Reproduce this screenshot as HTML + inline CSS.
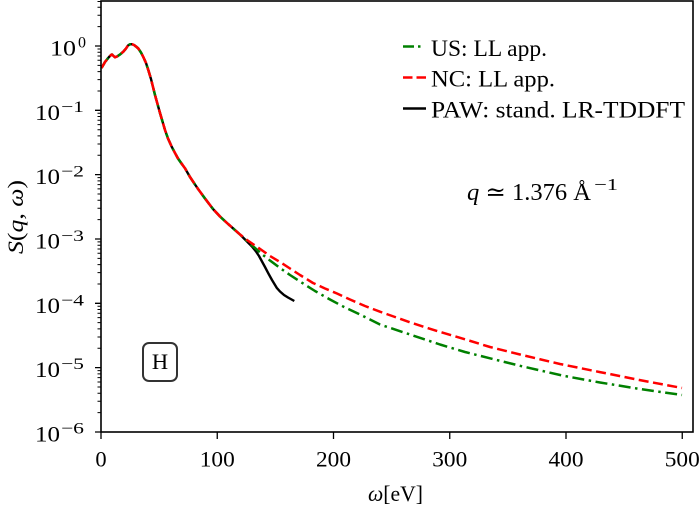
<!DOCTYPE html>
<html>
<head>
<meta charset="utf-8">
<style>
html,body{margin:0;padding:0;background:#fff;}
svg{display:block;}
text{font-family:"Liberation Serif","DejaVu Serif",serif;fill:#000;}
</style>
</head>
<body>
<svg width="700" height="506" viewBox="0 0 700 506" xmlns="http://www.w3.org/2000/svg">
<rect x="0" y="0" width="700" height="506" fill="#fff"/>

<!-- curves -->
<g fill="none" stroke-linejoin="round">
  <!-- black PAW -->
  <polyline stroke="#000" stroke-width="2.4" stroke-linecap="butt" points="101.5,68 103,65.5 105,62 107,59.5 109,57 111,55 112,54.5 113,55.5 115,57.3 117,56.5 120,54.5 123.3,51.7 126,48.5 128,45.5 130,44.3 132,44.2 134,45 136,46.5 138.3,48.5 141,52.5 143.3,57 146,63 148.3,70 151,79 153,87 155,95 157.5,104 160,113 162.5,121.5 165,130 168,138.5 171.7,146.7 175,153 178,158.5 181.5,163.5 185,168.3 190,177 195,184.5 198.3,189.3 205,198.5 213,209 220,216.5 227,223 233,228.3 240,234.5 247,241.5 252,246.5 256,251.5 259,256 262,261.5 265,267 268.3,273.3 272,280 276.7,287.8 280,291.5 284,295 288,297.5 294.3,301"/>
  <!-- green US -->
  <polyline stroke="#008000" stroke-width="2.5" stroke-dasharray="12 4.5 2.5 4.5" points="101.5,68 103,65.5 105,62 107,59.5 109,57 111,55 112,54.5 113,55.5 115,57.3 117,56.5 120,54.5 123.3,51.7 126,48.5 128,45.5 130,44.3 132,44.2 134,45 136,46.5 138.3,48.5 141,52.5 143.3,57 146,63 148.3,70 151,79 153,87 155,95 157.5,104 160,113 162.5,121.5 165,130 168,138.5 171.7,146.7 175,153 178,158.5 181.5,163.5 185,168.3 190,177 195,184.5 198.3,189.3 205,198.5 213,209 220,216.5 227,223 233,228.3 240,234.5 247,241 255,248 263,255 270,260.5 280,268 290,275 300,281.5 315,291 330,299.5 345,307.5 360,314.5 380,324.5 410,334.5 440,344.5 465,352 490,358.3 520,365.8 563,375.7 600,382.5 640,389 682,395"/>
  <!-- red NC -->
  <polyline stroke="#ff0000" stroke-width="2.5" stroke-dasharray="10 4.5" points="101.5,68 103,65.5 105,62 107,59.5 109,57 111,55 112,54.5 113,55.5 115,57.3 117,56.5 120,54.5 123.3,51.7 126,48.5 128,45.5 130,44.3 132,44.2 134,45 136,46.5 138.3,48.5 141,52.5 143.3,57 146,63 148.3,70 151,79 153,87 155,95 157.5,104 160,113 162.5,121.5 165,130 168,138.5 171.7,146.7 175,153 178,158.5 181.5,163.5 185,168.3 190,177 195,184.5 198.3,189.3 205,198.5 213,209 220,216.5 227,223 233,228.3 240,234.5 247,240 255,245.5 263,251 270,256 280,262 290,268.5 300,275 313,283 325,288.5 337,293.5 350,299.5 365,306 380,311.7 395,317 410,322.3 425,327.2 440,331.9 465,339.3 490,347 520,354.5 560,364 600,372.1 640,380.1 682,388"/>
</g>

<!-- axes frame -->
<rect x="101" y="1" width="592" height="431" fill="none" stroke="#000" stroke-width="1.6"/>

<!-- y major ticks -->
<path stroke="#000" stroke-width="1.3" fill="none" d="M95 46H101M95 110.33H101M95 174.66H101M95 238.99H101M95 303.32H101M95 367.65H101M95 432H101"/>
<!-- y minor ticks -->
<path stroke="#000" stroke-width="1" fill="none" d="
M97.5 412.63H101M97.5 401.31H101M97.5 393.27H101M97.5 387.03H101M97.5 381.94H101M97.5 377.63H101M97.5 373.9H101M97.5 370.61H101
M97.5 348.28H101M97.5 336.96H101M97.5 328.92H101M97.5 322.68H101M97.5 317.59H101M97.5 313.28H101M97.5 309.55H101M97.5 306.26H101
M97.5 283.95H101M97.5 272.63H101M97.5 264.59H101M97.5 258.35H101M97.5 253.26H101M97.5 248.95H101M97.5 245.22H101M97.5 241.93H101
M97.5 219.62H101M97.5 208.3H101M97.5 200.26H101M97.5 194.02H101M97.5 188.93H101M97.5 184.62H101M97.5 180.89H101M97.5 177.6H101
M97.5 155.29H101M97.5 143.97H101M97.5 135.93H101M97.5 129.69H101M97.5 124.6H101M97.5 120.29H101M97.5 116.56H101M97.5 113.27H101
M97.5 90.96H101M97.5 79.64H101M97.5 71.6H101M97.5 65.36H101M97.5 60.27H101M97.5 55.96H101M97.5 52.23H101M97.5 48.94H101
M97.5 26.63H101M97.5 15.31H101M97.5 7.27H101M97.5 1.5H101"/>
<!-- x major ticks -->
<path stroke="#000" stroke-width="1.3" fill="none" d="M101 432V439M217.25 432V439M333.5 432V439M449.75 432V439M566 432V439M682.25 432V439"/>

<!-- y tick labels -->
<g font-size="22.5">
  <text x="50" y="55.5" textLength="26" lengthAdjust="spacingAndGlyphs">10</text>
  <text x="35" y="119.8" textLength="25" lengthAdjust="spacingAndGlyphs">10</text>
  <text x="35" y="184.2" textLength="25" lengthAdjust="spacingAndGlyphs">10</text>
  <text x="35" y="248.5" textLength="25" lengthAdjust="spacingAndGlyphs">10</text>
  <text x="35" y="312.8" textLength="25" lengthAdjust="spacingAndGlyphs">10</text>
  <text x="35" y="377" textLength="25" lengthAdjust="spacingAndGlyphs">10</text>
  <text x="35" y="441.5" textLength="25" lengthAdjust="spacingAndGlyphs">10</text>
</g>
<g font-size="16">
  <text x="78" y="47.5">0</text>
  <text x="61" y="112" textLength="23" lengthAdjust="spacingAndGlyphs">−1</text>
  <text x="61" y="176.5" textLength="23" lengthAdjust="spacingAndGlyphs">−2</text>
  <text x="61" y="241" textLength="23" lengthAdjust="spacingAndGlyphs">−3</text>
  <text x="61" y="305.3" textLength="23" lengthAdjust="spacingAndGlyphs">−4</text>
  <text x="61" y="369" textLength="23" lengthAdjust="spacingAndGlyphs">−5</text>
  <text x="61" y="433.5" textLength="23" lengthAdjust="spacingAndGlyphs">−6</text>
</g>

<!-- x tick labels -->
<g font-size="22.5" text-anchor="middle">
  <text x="101" y="466.5">0</text>
  <text x="217.25" y="466.5" textLength="35" lengthAdjust="spacingAndGlyphs">100</text>
  <text x="333.5" y="466.5" textLength="35" lengthAdjust="spacingAndGlyphs">200</text>
  <text x="449.75" y="466.5" textLength="35" lengthAdjust="spacingAndGlyphs">300</text>
  <text x="566" y="466.5" textLength="35" lengthAdjust="spacingAndGlyphs">400</text>
  <text x="682.25" y="466.5" textLength="35" lengthAdjust="spacingAndGlyphs">500</text>
</g>

<!-- axis labels -->
<text x="395.5" y="501" font-size="22.5" text-anchor="middle" textLength="55" lengthAdjust="spacingAndGlyphs"><tspan font-style="italic">ω</tspan>[eV]</text>
<text transform="translate(23,217) rotate(-90)" font-size="22.5" text-anchor="middle" textLength="74" lengthAdjust="spacingAndGlyphs"><tspan font-style="italic">S</tspan>(<tspan font-style="italic">q</tspan>, <tspan font-style="italic">ω</tspan>)</text>

<!-- legend -->
<g fill="none">
  <line x1="403" y1="46.5" x2="426" y2="46.5" stroke="#008000" stroke-width="2.5" stroke-dasharray="11 4 2.5 6"/>
  <line x1="403" y1="77.5" x2="426" y2="77.5" stroke="#ff0000" stroke-width="2.5" stroke-dasharray="9.5 4"/>
  <line x1="403" y1="108.5" x2="426" y2="108.5" stroke="#000" stroke-width="2.5"/>
</g>
<g font-size="23">
  <text x="431" y="56" textLength="116" lengthAdjust="spacingAndGlyphs">US: LL app.</text>
  <text x="431" y="86.7" textLength="124" lengthAdjust="spacingAndGlyphs">NC: LL app.</text>
  <text x="431" y="117.3" textLength="254" lengthAdjust="spacingAndGlyphs">PAW: stand.  LR-TDDFT</text>
</g>

<!-- q annotation -->
<text x="467" y="200" font-size="24" textLength="124" lengthAdjust="spacingAndGlyphs"><tspan font-style="italic">q</tspan> ≃ 1.376 Å</text>
<text x="594" y="190" font-size="17" textLength="24" lengthAdjust="spacingAndGlyphs">−1</text>

<!-- H box -->
<rect x="143" y="343" width="34" height="38" rx="6" ry="6" fill="#fff" stroke="#333" stroke-width="2"/>
<text x="160" y="369" font-size="22.5" text-anchor="middle">H</text>
</svg>
</body>
</html>
